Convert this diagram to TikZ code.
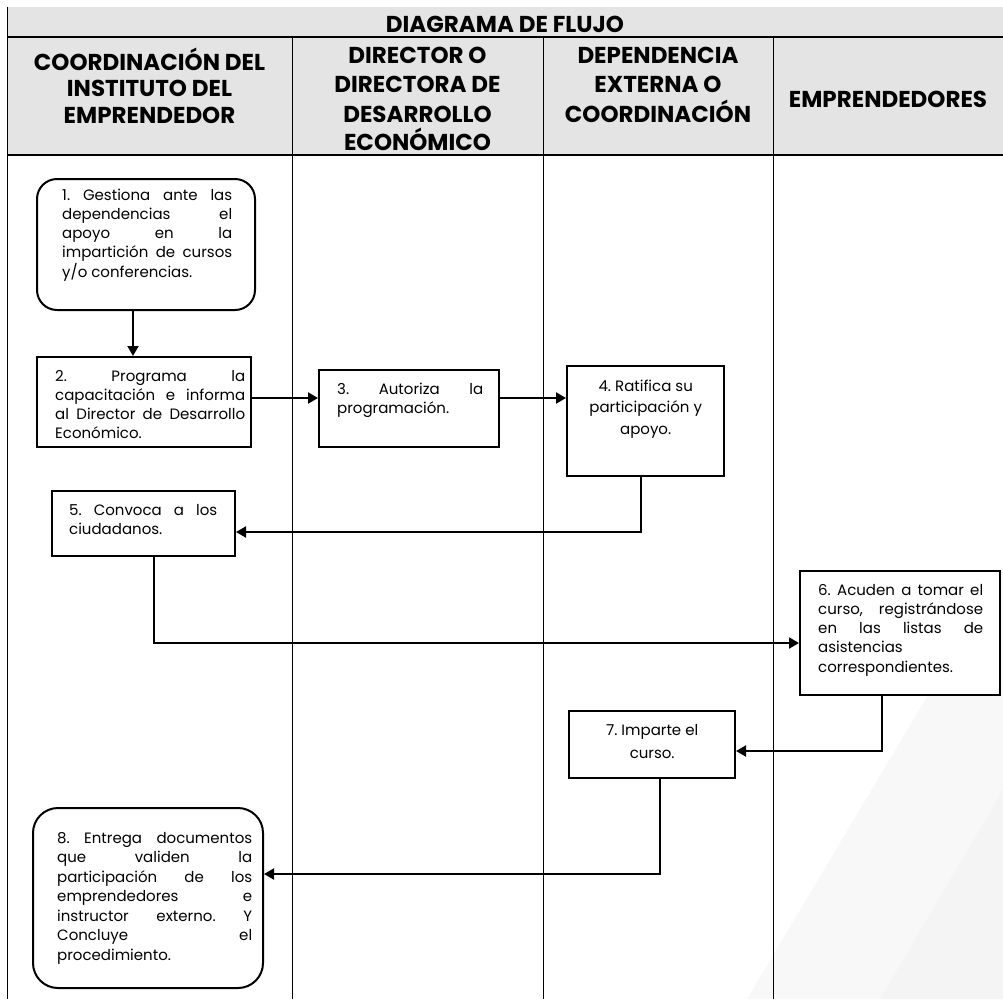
\documentclass[tikz,border=0pt]{standalone}
\usepackage{fontspec}
\setmainfont{Poppins}
\usetikzlibrary{arrows.meta,calc}
\definecolor{hdr}{HTML}{E4E4E4}
\definecolor{wma}{HTML}{F8F8F8}
\definecolor{wmb}{HTML}{F4F4F4}
\frenchspacing
\newcommand{\txtblock}[3]{\vtop{\hsize=#1pt\baselineskip=#2pt\lineskiplimit=-20pt #3}}
\newcommand{\jln}[1]{\hbox to \hsize{#1}}
\newcommand{\lln}[1]{\hbox to \hsize{#1\hfil}}
\newcommand{\cln}[1]{\hbox to \hsize{\hfil#1\hfil}}
\tikzset{
  box/.style={draw=black, line width=2pt, fill=white, inner sep=0pt},
  rbox/.style={box, rounded corners=20pt},
  conn/.style={line width=2pt, -{Triangle[length=10pt,width=11pt]}},
  lane/.style={line width=1pt},
  hd/.style={font=\fontsize{23}{26}\selectfont\bfseries, anchor=base, inner sep=0pt},
  bt/.style={font=\fontsize{15}{19}\selectfont\frenchspacing, inner sep=0pt, anchor=base west},
}
\begin{document}
\begin{tikzpicture}[x=1pt,y=-1pt]
\useasboundingbox (0,0) rectangle (1003,999);
% watermark
\fill[wma] (747,999) -- (1003,569) -- (1003,999) -- cycle;
\fill[wmb] (880,999) -- (1003,790) -- (1003,999) -- cycle;
% header
\fill[hdr] (7,7) rectangle (1003,155);
\draw[line width=1.4pt] (7,37) -- (1003,37);
\draw[line width=1.4pt] (7,155) -- (1003,155);
\draw[lane] (7,7) -- (7,999);
\draw[lane] (292,37) -- (292,999);
\draw[lane] (543,37) -- (543,999);
\draw[lane] (773,37) -- (773,999);
\node[hd] (title) at (505,32) {DIAGRAMA DE FLUJO};
\node[hd] (h1a) at (149.5,70) {COORDINACIÓN DEL};
\node[hd] (h1b) at (149.5,96.5) {INSTITUTO DEL};
\node[hd] (h1c) at (149.5,123) {EMPRENDEDOR};
\node[hd] (h2a) at (417.5,63) {DIRECTOR O};
\node[hd] (h2b) at (417.5,92.5) {DIRECTORA DE};
\node[hd] (h2c) at (417.5,122) {DESARROLLO};
\node[hd] (h2d) at (417.5,150) {ECONÓMICO};
\node[hd] (h3a) at (658,63) {DEPENDENCIA};
\node[hd] (h3b) at (658,92.5) {EXTERNA O};
\node[hd] (h3c) at (658,122) {COORDINACIÓN};
\node[hd] (h4a) at (888,107) {EMPRENDEDORES};
% boxes
\node[rbox, minimum width=218pt, minimum height=131pt] (b1) at (146,244.5) {};
\node[box, minimum width=214pt, minimum height=90pt] (b2) at (144,402) {};
\node[box, minimum width=180pt, minimum height=77pt] (b3) at (409,408.5) {};
\node[box, minimum width=157pt, minimum height=110pt] (b4) at (645.5,421) {};
\node[box, minimum width=183pt, minimum height=65pt] (b5) at (143.5,523.5) {};
\node[box, minimum width=200pt, minimum height=124pt] (b6) at (900,633) {};
\node[box, minimum width=166pt, minimum height=67pt] (b7) at (652,744.5) {};
\node[rbox, rounded corners=25pt, minimum width=230pt, minimum height=180pt] (b8) at (148,898) {};
% texts
\node[bt] (t1) at (62,200) {\txtblock{170}{19.25}{%
  \jln{1. Gestiona ante las}
  \jln{dependencias el}
  \jln{apoyo en la}
  \jln{impartición de cursos}
  \lln{y/o conferencias.}}};
\node[bt] (t2) at (55,381) {\txtblock{190}{19}{%
  \jln{2. Programa la}
  \jln{capacitación e informa}
  \jln{al Director de Desarrollo}
  \lln{Económico.}}};
\node[bt] (t3) at (337,394) {\txtblock{146}{19}{%
  \jln{3. Autoriza la}
  \lln{programación.}}};
\node[bt] (t4) at (570.5,391) {\txtblock{150}{21.5}{%
  \cln{4. Ratifica su}
  \cln{participación y}
  \cln{apoyo.}}};
\node[bt] (t5) at (69,515) {\txtblock{148}{19}{%
  \jln{5. Convoca a los}
  \lln{ciudadanos.}}};
\node[bt] (t6) at (818,595) {\txtblock{165}{19.25}{%
  \jln{6. Acuden a tomar el}
  \jln{curso, registrándose}
  \jln{en las listas de}
  \lln{asistencias}
  \lln{correspondientes.}}};
\node[bt] (t7) at (577,735) {\txtblock{150}{23}{%
  \cln{7. Imparte el}
  \cln{curso.}}};
\node[bt] (t8) at (57,843) {\txtblock{195}{19.5}{%
  \jln{8. Entrega documentos}
  \jln{que validen la}
  \jln{participación de los}
  \jln{emprendedores e}
  \jln{instructor externo. Y}
  \jln{Concluye el}
  \lln{procedimiento.}}};
% connectors
\draw[conn] ($(b1.south)+(-13,0)$) -- ($(b2.north)+(-11,0)$);
\draw[conn] ($(b2.east)+(0,-4)$) -- ($(b3.west)+(0,-10.5)$);
\draw[conn] ($(b3.east)+(0,-10.5)$) -- ($(b4.west)+(0,-23)$);
\draw[conn] ($(b4.south)+(-4.5,0)$) |- ($(b5.east)+(0,8.5)$);
\draw[conn] ($(b5.south)+(10.5,0)$) |- ($(b6.west)+(0,10)$);
\draw[conn] ($(b6.south)+(-18,0)$) |- ($(b7.east)+(0,6.5)$);
\draw[conn] ($(b7.south)+(8,0)$) |- ($(b8.east)+(0,-24)$);
\end{tikzpicture}
\end{document}
